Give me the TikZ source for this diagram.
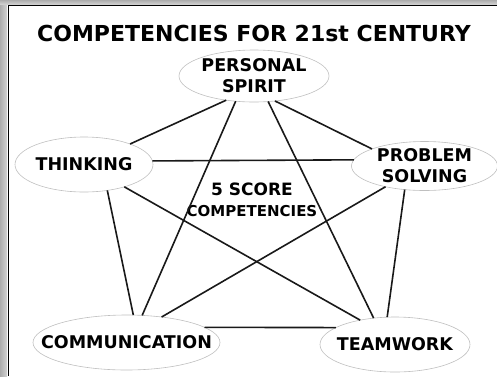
\documentclass[tikz,border=0pt]{standalone}
\usepackage{fontspec}
\setmainfont{DejaVu Sans}
\usepackage{tikz}
\usetikzlibrary{positioning, shapes.geometric}

\begin{document}
\begin{tikzpicture}[%
        x=1pt, y=-1pt,
        every node/.style={inner sep=0pt, outer sep=0pt, text=black, font=\bfseries},
        skill/.style={ellipse, draw=gray!50, line width=0.6pt, align=center,
            inner sep=-40pt, font=\bfseries\fontsize{17.5}{21}\selectfont},
        link/.style={line width=1.6pt, black!90}
    ]
    \useasboundingbox (0,0) rectangle (497,376);

    % --- frame ---
    \fill[left color=gray!65, right color=gray!35] (0,0) rectangle (7,376);
    \fill[top color=gray!65, bottom color=gray!35] (0,0) rectangle (497,4.5);
    \draw[line width=1.5pt] (8.5,376) -- (8.5,5.5) -- (497,5.5);

    % --- title ---
    \node (title) at (254,33) {\fontsize{22}{26}\selectfont COMPETENCIES FOR 21st CENTURY};

    % --- competencies ---
    \node[skill, minimum width=150, minimum height=52] (ps) at (254,76) {PERSONAL\\SPIRIT};
    \node[skill, minimum width=138, minimum height=55] (think) at (84,164.5) {THINKING};
    \node[skill, minimum width=146, minimum height=49] (prob) at (424.5,166) {PROBLEM\\SOLVING};
    \node[skill, minimum width=187, minimum height=55] (comm) at (126.5,342.5) {COMMUNICATION};
    \node[skill, minimum width=150, minimum height=55] (team) at (395,344.5) {TEAMWORK};

    \node[align=center, font=\bfseries\fontsize{17}{21}\selectfont] (core) at (252,199.5)
        {5 SCORE\\{\fontsize{15}{21}\selectfont COMPETENCIES}};

    % --- links ---
    \draw[link] (ps.221) -- (think.24);
    \draw[link] (ps.310) -- (prob.162);
    \draw[link] (ps.234) -- (comm.60);
    \draw[link] (ps.299) -- (team.129);
    \draw[link] (think.3.3) -- (prob.175.6);
    \draw[link] (think.312) -- (comm.76);
    \draw[link] (think.331) -- (team.145);
    \draw[link] (prob.208) -- (comm.36);
    \draw[link] (prob.230) -- (team.106);
    \draw[link] (comm.11) -- (team.164);
\end{tikzpicture}
\end{document}
